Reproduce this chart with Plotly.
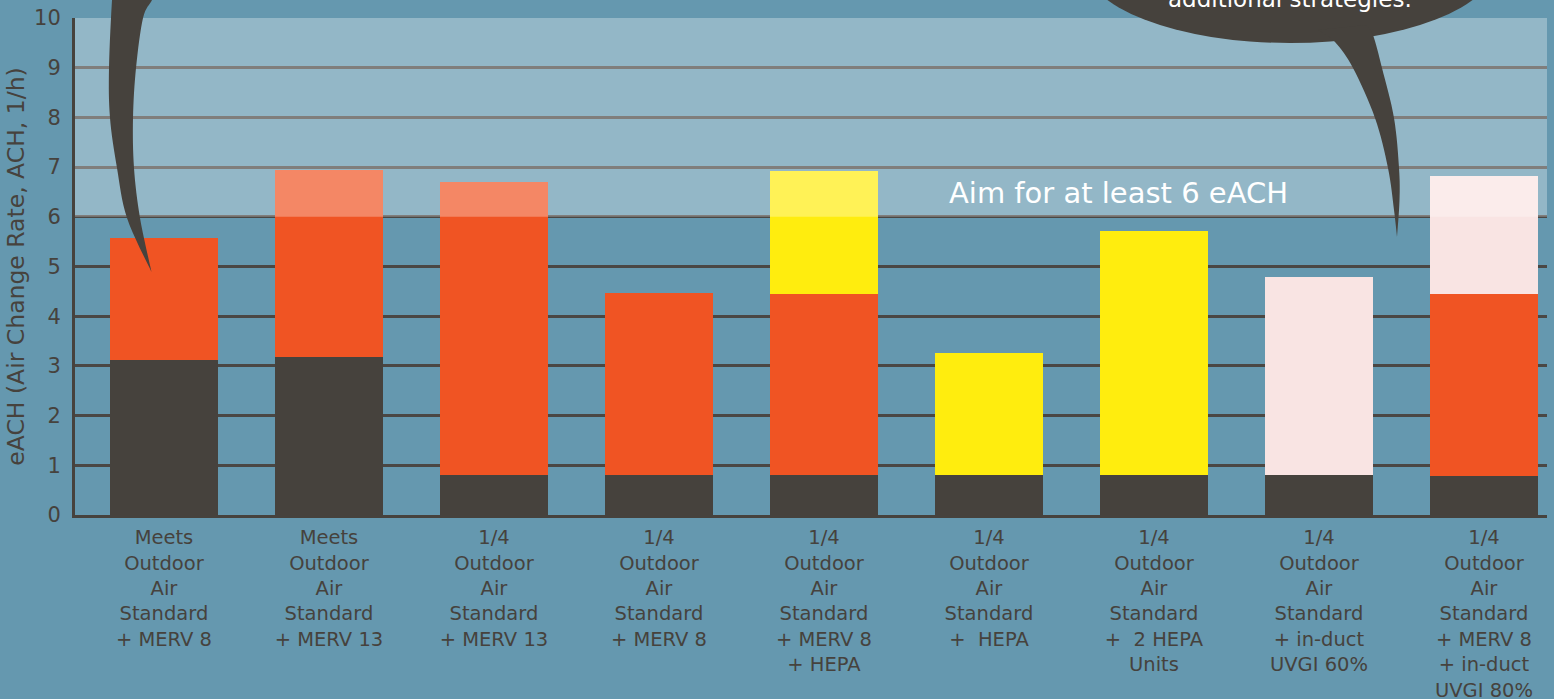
import plotly.graph_objects as go

# ---------------- data ----------------
categories = [
    "Meets<br>Outdoor<br>Air<br>Standard<br>+ MERV 8",
    "Meets<br>Outdoor<br>Air<br>Standard<br>+ MERV 13",
    "1/4<br>Outdoor<br>Air<br>Standard<br>+ MERV 13",
    "1/4<br>Outdoor<br>Air<br>Standard<br>+ MERV 8",
    "1/4<br>Outdoor<br>Air<br>Standard<br>+ MERV 8<br>+ HEPA",
    "1/4<br>Outdoor<br>Air<br>Standard<br>+  HEPA",
    "1/4<br>Outdoor<br>Air<br>Standard<br>+  2 HEPA<br>Units",
    "1/4<br>Outdoor<br>Air<br>Standard<br>+ in-duct<br>UVGI 60%",
    "1/4<br>Outdoor<br>Air<br>Standard<br>+ MERV 8<br>+ in-duct<br>UVGI 80%",
]
outdoor_air = [3.12, 3.18, 0.80, 0.80, 0.80, 0.80, 0.80, 0.80, 0.78]
filtration = [2.45, 3.76, 5.90, 3.66, 3.64, 0.0, 0.0, 0.0, 3.66]
hepa = [0.0, 0.0, 0.0, 0.0, 2.48, 2.46, 4.92, 0.0, 0.0]
uvgi = [0.0, 0.0, 0.0, 0.0, 0.0, 0.0, 0.0, 3.99, 2.38]
y_ticks = [0, 1, 2, 3, 4, 5, 6, 7, 8, 9, 10]
target = 6
y_max = 10
y_title = "eACH (Air Change Rate, ACH, 1/h)"
band_text = "Aim for at least 6 eACH"
bubble_text = "additional strategies."

# ---------------- style ----------------
BG = "#6598AF"
DARK = "#46423D"
ORANGE = "#F05423"
YELLOW = "#FFED0E"
PINK = "#F9E4E3"
FONT = "DejaVu Sans"

W, H = 1554, 699
L, R, T, B = 75, 1547, 18, 515


def px(x):
    return (x - L) / (R - L)


def py(y):
    return (B - y) / (B - T)


def smooth(points, n=8):
    # Catmull-Rom smoothing of a polyline (pixel coordinates)
    out = []
    pts = [points[0]] + points + [points[-1]]
    for i in range(1, len(pts) - 2):
        p0, p1, p2, p3 = pts[i - 1], pts[i], pts[i + 1], pts[i + 2]
        for k in range(n):
            t = k / n
            t2, t3 = t * t, t * t * t
            x = 0.5 * ((2 * p1[0]) + (-p0[0] + p2[0]) * t + (2 * p0[0] - 5 * p1[0] + 4 * p2[0] - p3[0]) * t2 + (-p0[0] + 3 * p1[0] - 3 * p2[0] + p3[0]) * t3)
            y = 0.5 * ((2 * p1[1]) + (-p0[1] + p2[1]) * t + (2 * p0[1] - 5 * p1[1] + 4 * p2[1] - p3[1]) * t2 + (-p0[1] + 3 * p1[1] - 3 * p2[1] + p3[1]) * t3)
            out.append((x, y))
    out.append(points[-1])
    return out


def path_from(left_edge, right_edge):
    pts = smooth(left_edge) + smooth(right_edge)[1:]
    d = "M " + " L ".join(f"{px(x):.5f},{py(y):.5f}" for x, y in pts) + " Z"
    return d


fig = go.Figure()
for vals, col in [(outdoor_air, DARK), (filtration, ORANGE), (hepa, YELLOW), (uvgi, PINK)]:
    fig.add_trace(go.Bar(x=categories, y=vals, marker=dict(color=col, line=dict(width=0)),
                         width=0.6545, hoverinfo="skip"))

shapes = []
# translucent "aim" band
shapes.append(dict(type="rect", xref="paper", yref="y", x0=0, x1=1, y0=target, y1=y_max,
                   fillcolor="rgba(255,255,255,0.3)", line=dict(width=0), layer="above"))

# left speech-bubble tail
left_tail_l = [(114, -12), (112, 0), (109, 68), (110, 118), (117, 168), (127, 218), (151.5, 272)]
left_tail_r = [(151.5, 272), (140, 218), (134, 168), (133, 118), (136, 68), (143, 18), (152, 0), (156, -12)]
shapes.append(dict(type="path", xref="paper", yref="paper", path=path_from(left_tail_l, left_tail_r),
                   fillcolor=DARK, line=dict(width=0), layer="above"))

# right speech bubble body
shapes.append(dict(type="circle", xref="paper", yref="paper",
                   x0=px(1084), x1=px(1496), y0=py(43), y1=py(-117),
                   fillcolor=DARK, line=dict(width=0), layer="above"))
right_tail_l = [(1318, 30), (1335, 42), (1353, 68), (1375, 118), (1388, 168), (1394, 210), (1397, 237)]
right_tail_r = [(1397, 237), (1399.5, 200), (1399, 168), (1394, 118), (1382, 68), (1373, 35), (1366, 25)]
shapes.append(dict(type="path", xref="paper", yref="paper", path=path_from(right_tail_l, right_tail_r),
                   fillcolor=DARK, line=dict(width=0), layer="above"))

annotations = [
    dict(text=band_text, xref="paper", yref="paper", x=px(1118), y=py(193), xanchor="center",
         yanchor="middle", showarrow=False, font=dict(family=FONT, size=29, color="white")),
    dict(text=bubble_text, xref="paper", yref="paper", x=px(1290), y=py(14), xanchor="center",
         yanchor="bottom", showarrow=False, font=dict(family=FONT, size=23, color="white")),
]

fig.update_layout(
    width=W, height=H,
    barmode="stack",
    showlegend=False,
    paper_bgcolor=BG, plot_bgcolor=BG,
    margin=dict(l=L, r=W - R, t=T, b=H - B, autoexpand=False),
    shapes=shapes,
    annotations=annotations,
    bargap=0.35,
    font=dict(family=FONT, color=DARK),
)
fig.update_xaxes(
    showgrid=False, showline=True, linecolor=DARK, linewidth=3,
    ticks="", tickfont=dict(family=FONT, size=19.5, color=DARK),
    ticklabelstandoff=3, range=[-0.539, 8.382], fixedrange=True,
)
fig.update_yaxes(
    range=[0, y_max], tickvals=y_ticks, showgrid=True, gridcolor="#4A4744", gridwidth=3,
    showline=True, linecolor=DARK, linewidth=3, zeroline=False,
    ticks="", tickfont=dict(family=FONT, size=21, color=DARK), ticklabelstandoff=7,
    title=dict(text=y_title, font=dict(family=FONT, size=23.5, color=DARK), standoff=3),
    fixedrange=True,
)

fig.write_html("out.html")
